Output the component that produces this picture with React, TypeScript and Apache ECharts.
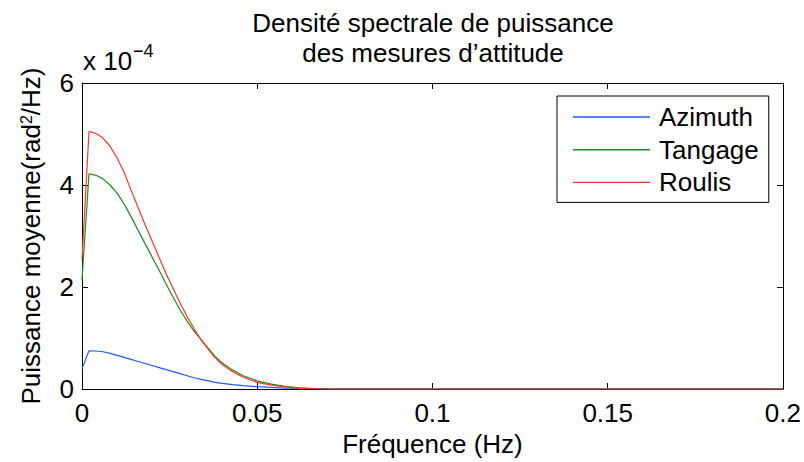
import React, { useEffect, useRef } from "react";
import * as echarts from "echarts";

// Frequency samples (Hz)
const freqHz = [
  0, 0.002, 0.004, 0.006, 0.008, 0.01, 0.012, 0.014, 0.016, 0.018, 0.02, 0.022,
  0.024, 0.026, 0.028, 0.03, 0.032, 0.034, 0.036, 0.038, 0.04, 0.043, 0.046,
  0.05, 0.054, 0.058, 0.062, 0.066, 0.07, 0.08, 0.1, 0.15, 0.2,
];

// Power spectral density, in units of 1e-4 rad^2/Hz
const azimuthE4 = [
  0.4, 0.75, 0.745, 0.73, 0.7, 0.66, 0.62, 0.58, 0.54, 0.5, 0.46, 0.42, 0.38,
  0.34, 0.3, 0.26, 0.22, 0.19, 0.16, 0.13, 0.11, 0.085, 0.065, 0.045, 0.03,
  0.018, 0.01, 0.005, 0.002, 0, 0, 0, 0,
];
const tangageE4 = [
  2.14, 4.22, 4.19, 4.12, 4.0, 3.84, 3.63, 3.38, 3.11, 2.85, 2.59, 2.33, 2.06,
  1.8, 1.55, 1.33, 1.13, 0.97, 0.8, 0.64, 0.51, 0.37, 0.26, 0.16, 0.095, 0.05,
  0.025, 0.01, 0.004, 0, 0, 0, 0,
];
const roulisE4 = [
  2.53, 5.05, 5.01, 4.92, 4.76, 4.53, 4.25, 3.9, 3.56, 3.22, 2.9, 2.58, 2.26,
  1.97, 1.68, 1.42, 1.18, 0.96, 0.78, 0.61, 0.48, 0.34, 0.23, 0.13, 0.075,
  0.04, 0.018, 0.007, 0.003, 0, 0, 0, 0,
];

const seriesNames = ["Azimuth", "Tangage", "Roulis"];
const seriesColors = ["#1f5cff", "#1f8c1f", "#ff3526"];

const FONT = "'Liberation Sans', Arial, Helvetica, sans-serif";

export default function App() {
  const ref = useRef<HTMLDivElement>(null);

  useEffect(() => {
    if (!ref.current) return;
    const chart = echarts.init(ref.current, undefined, { renderer: "svg" });
    const values = [azimuthE4, tangageE4, roulisE4];

    const axisLine = { show: true, onZero: false, lineStyle: { color: "#000", width: 1 } };
    const axisTick = { show: true, inside: true, length: 6, lineStyle: { color: "#000", width: 1 } };
    const labelStyle = { color: "#000", fontSize: 26, fontFamily: FONT, lineHeight: 26 };

    const option: any = {
      animation: false,
      backgroundColor: "#fff",
      textStyle: { fontFamily: FONT },
      title: {
        text: "Densité spectrale de puissance\ndes mesures d’attitude",
        left: 433,
        top: 8,
        textAlign: "center",
        padding: 0,
        textStyle: { fontFamily: FONT, fontSize: 26, fontWeight: "normal", color: "#000", lineHeight: 30 },
      },
      grid: { left: 82, right: 19, top: 83, bottom: 73, containLabel: false },
      legend: {
        orient: "vertical",
        left: 557,
        top: 96,
        padding: [8, 10, 7, 16],
        icon: "rect",
        itemWidth: 77,
        itemHeight: 1.4,
        itemGap: 6.7,
        borderColor: "#000",
        borderWidth: 1,
        backgroundColor: "#fff",
        textStyle: { fontSize: 26, color: "#000", fontFamily: FONT, lineHeight: 26, padding: [0, 0, 0, 4] },
        data: seriesNames,
      },
      xAxis: [
        {
          type: "value",
          min: 0,
          max: 0.2,
          interval: 0.05,
          position: "bottom",
          name: "Fréquence (Hz)",
          nameLocation: "middle",
          nameGap: 41,
          nameTextStyle: labelStyle,
          axisLine,
          axisTick,
          axisLabel: { margin: 11, ...labelStyle },
          splitLine: { show: false },
        },
        {
          type: "value",
          min: 0,
          max: 0.2,
          interval: 0.05,
          position: "top",
          axisLine,
          axisTick,
          axisLabel: { show: false },
          splitLine: { show: false },
        },
      ],
      yAxis: [
        {
          type: "value",
          min: 0,
          max: 6,
          interval: 2,
          position: "left",
          name: "Puissance moyenne(rad{sup|2}/Hz)",
          nameLocation: "middle",
          nameGap: 38,
          nameTextStyle: {
            ...labelStyle,
            rich: { sup: { fontSize: 16, lineHeight: 16, verticalAlign: "top", fontFamily: FONT, color: "#000" } },
          },
          axisLine,
          axisTick,
          axisLabel: { margin: 8, ...labelStyle },
          splitLine: { show: false },
        },
        {
          type: "value",
          min: 0,
          max: 6,
          interval: 2,
          position: "right",
          axisLine,
          axisTick,
          axisLabel: { show: false },
          splitLine: { show: false },
        },
      ],
      series: seriesNames.map((name, k) => ({
        name,
        type: "line",
        xAxisIndex: 0,
        yAxisIndex: 0,
        symbol: "none",
        showSymbol: false,
        smooth: false,
        color: seriesColors[k],
        itemStyle: { color: seriesColors[k] },
        lineStyle: { color: seriesColors[k], width: 1.2 },
        data: freqHz.map((f, i) => [f, values[k][i]]),
      })),
      graphic: [
        {
          type: "text",
          x: 83,
          y: 61,
          style: {
            text: "x 10",
            fontSize: 26,
            fontFamily: FONT,
            fill: "#000",
            align: "left",
            verticalAlign: "middle",
            textAlign: "left",
            textVerticalAlign: "middle",
          },
        },
        {
          type: "text",
          x: 133,
          y: 51,
          style: {
            text: "−4",
            fontSize: 18,
            fontFamily: FONT,
            fill: "#000",
            align: "left",
            verticalAlign: "middle",
            textAlign: "left",
            textVerticalAlign: "middle",
          },
        },
      ],
    };

    chart.setOption(option);
    return () => chart.dispose();
  }, []);

  return (
    <div
      ref={ref}
      style={{ position: "fixed", left: 0, top: 0, width: 804, height: 462, background: "#fff" }}
    />
  );
}
